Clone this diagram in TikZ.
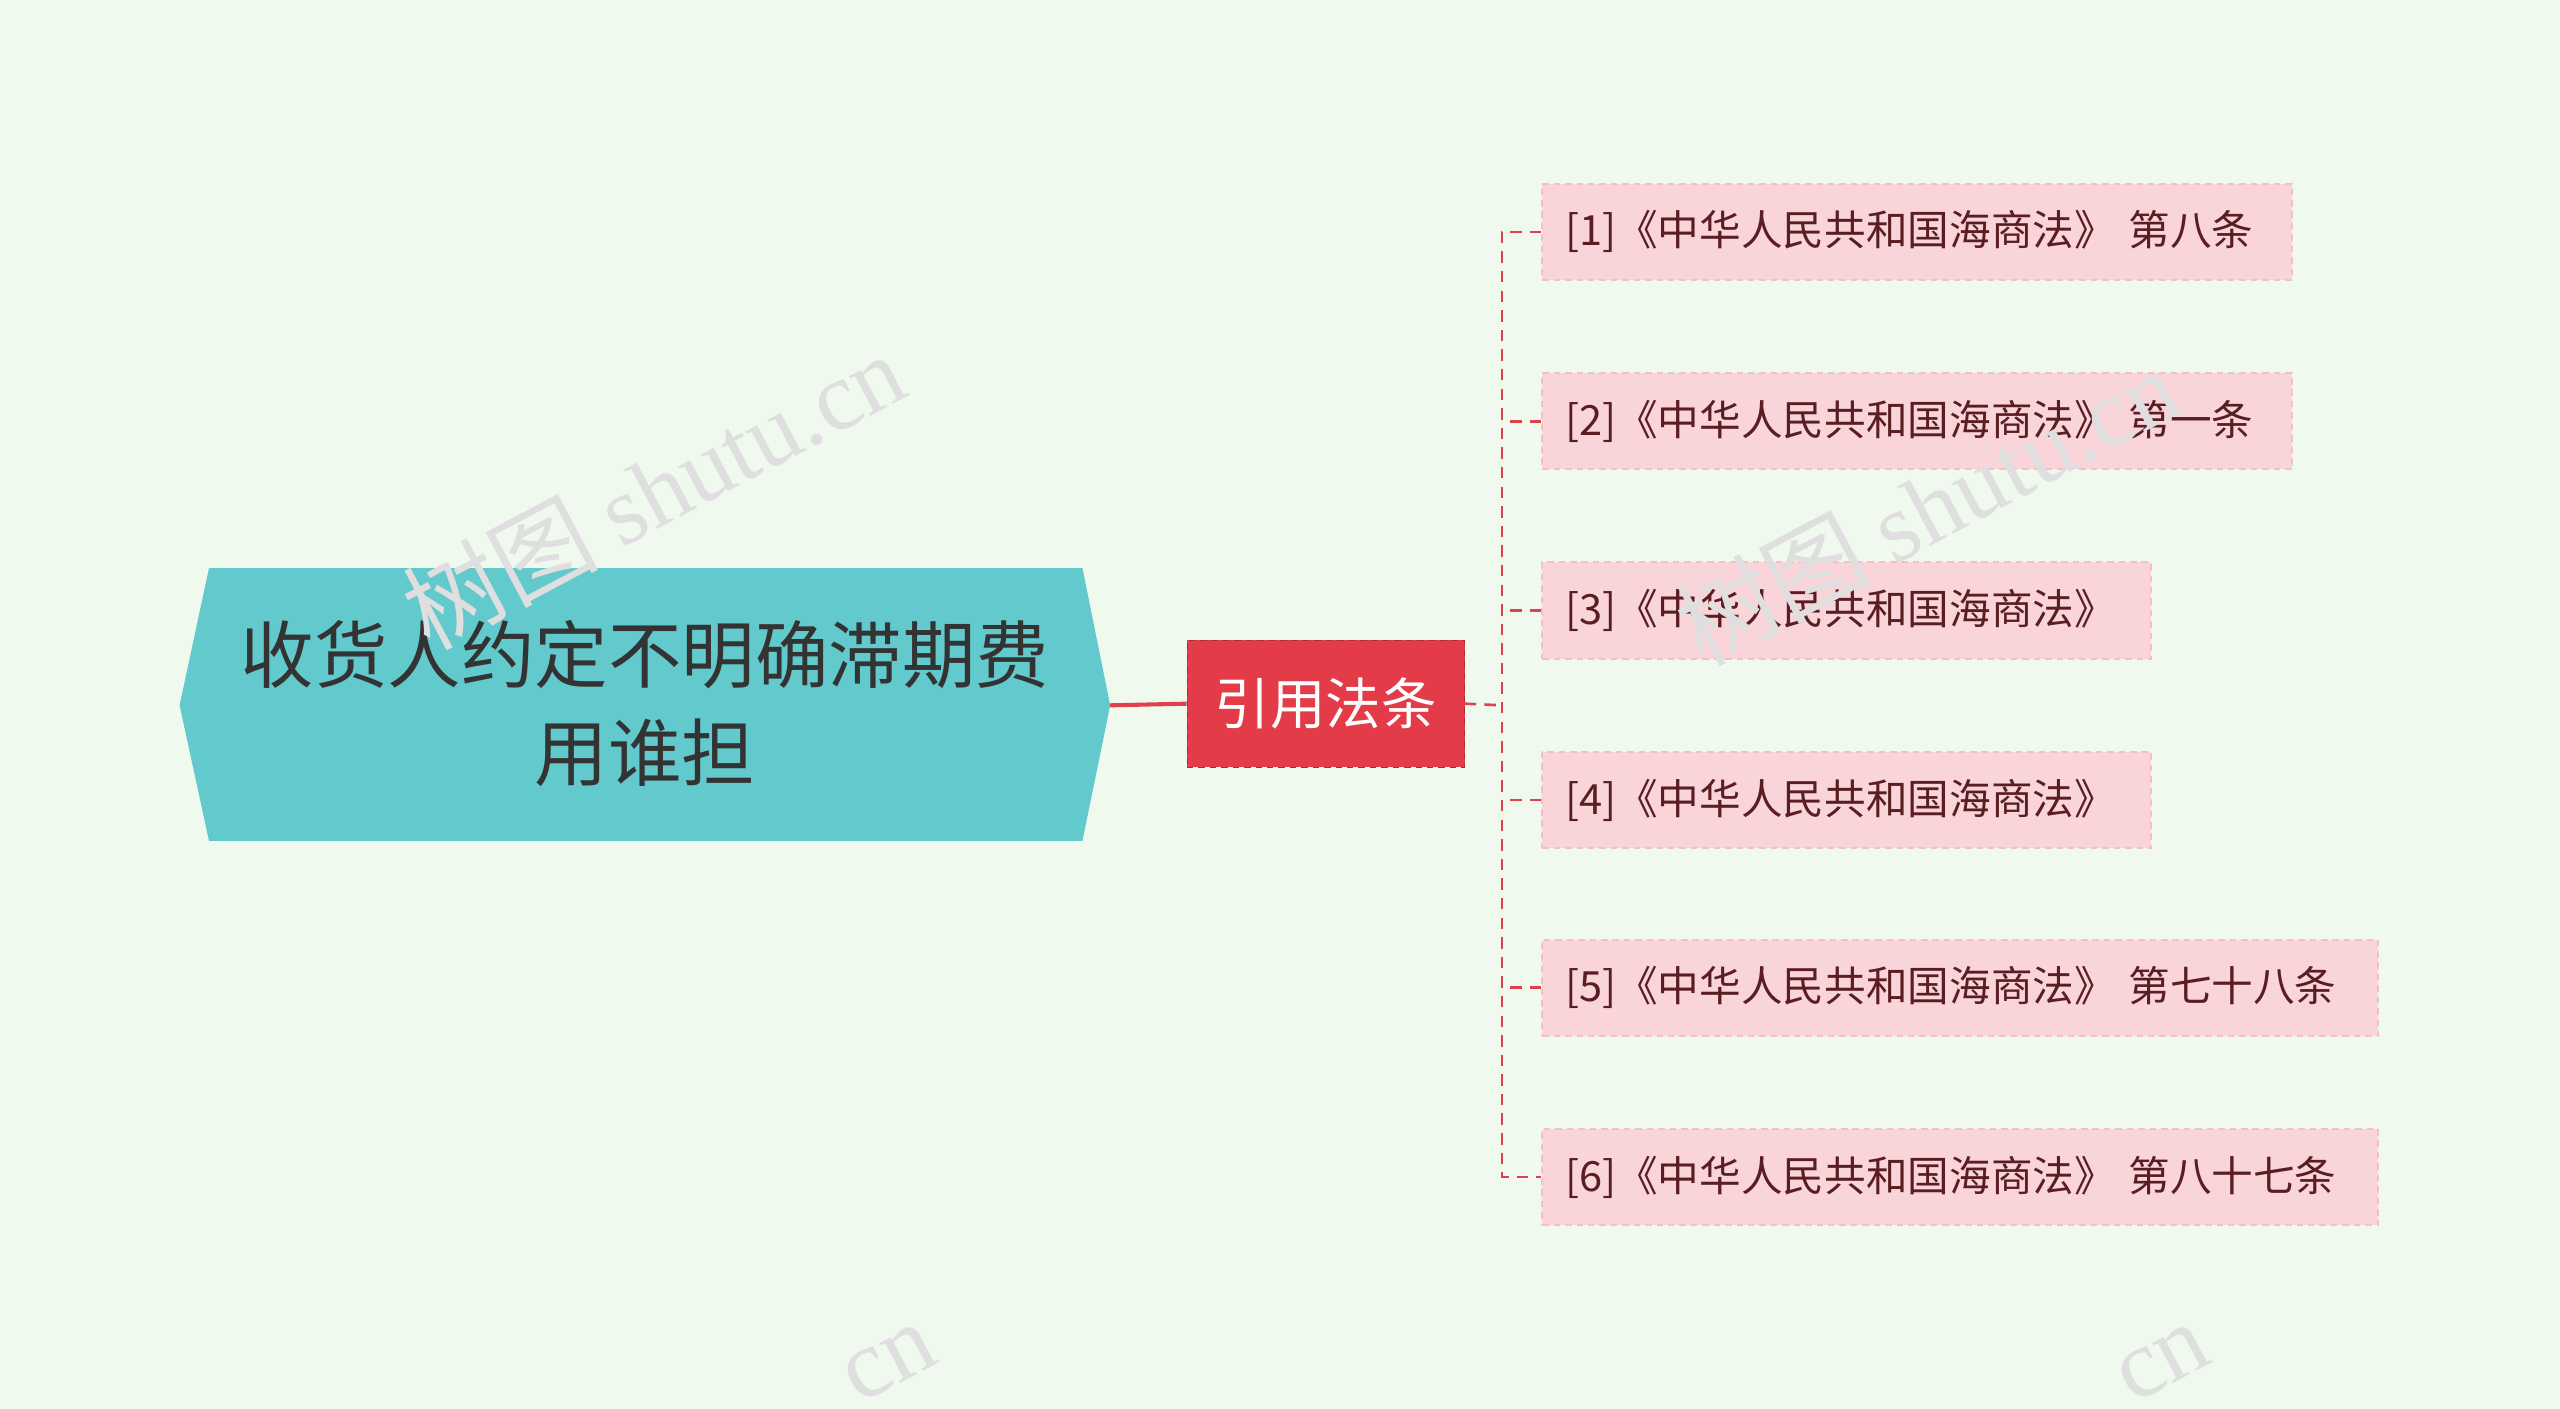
\documentclass[tikz,border=0pt]{standalone}
\usepackage{fontspec}
\usetikzlibrary{calc}
\setmainfont{Noto Sans CJK SC}
\newfontfamily\wmfont{Liberation Serif}
\begin{document}
\begin{tikzpicture}[x=1pt,y=-1pt,
 leaf/.style={draw=pinkedge,dash pattern=on 4pt off 3pt,fill=leaffill,line width=1.2pt,minimum height=59pt,inner xsep=14pt,anchor=west,text=leaftext,font=\fontsize{25.5}{30}\selectfont},
 br/.style={draw=linered,dash pattern=on 7pt off 5pt,line width=1.6pt},
 wm/.style={rotate=28,text=gray!25,font=\fontsize{60}{62}\selectfont}]
\definecolor{bg}{HTML}{F0F9EE}
\definecolor{leaffill}{HTML}{F9D5DA}
\definecolor{pinkedge}{HTML}{F4BFC6}
\definecolor{leaftext}{HTML}{5A1E22}
\definecolor{linered}{HTML}{E0404A}
\definecolor{rootfill}{HTML}{62CACD}
\definecolor{midfill}{HTML}{E33B48}
\fill[bg] (0,0) rectangle (1568,863);
\useasboundingbox (0,0) rectangle (1568,863);
% root
\fill[rootfill] (110,432) -- (128,348) -- (663,348) -- (680,432) -- (663,515) -- (128,515) -- cycle;
\node[align=center,text=black!80,font=\fontsize{45}{60}\selectfont] (root) at (395,431) {收货人约定不明确滞期费\\用谁担};
\coordinate (rootR) at (680,432);
% middle
\node[draw=midfill!75!black,dash pattern=on 4pt off 3pt,fill=midfill,minimum width=170pt,minimum height=78pt,text=white,font=\fontsize{34}{40}\selectfont] (mid) at (812,431) {引用法条};
\draw[linered,line width=2.5pt] (rootR) -- (mid.west);
\coordinate (bus) at (920,432);
\draw[br] (mid.east) -- (bus);
\node[leaf,minimum width=459pt,text width=431pt] (l1) at (944,142) {\mbox{[1]《中华人民共和国海商法》\hspace{0.3em}第八条}};
\node[leaf,minimum width=459pt,text width=431pt] (l2) at (944,258) {\mbox{[2]《中华人民共和国海商法》\hspace{0.3em}第一条}};
\node[leaf,minimum width=373pt,text width=345pt] (l3) at (944,374) {\mbox{[3]《中华人民共和国海商法》}};
\node[leaf,minimum width=373pt,text width=345pt] (l4) at (944,490) {\mbox{[4]《中华人民共和国海商法》}};
\node[leaf,minimum width=512pt,text width=484pt] (l5) at (944,605) {\mbox{[5]《中华人民共和国海商法》\hspace{0.3em}第七十八条}};
\node[leaf,minimum width=512pt,text width=484pt] (l6) at (944,721) {\mbox{[6]《中华人民共和国海商法》\hspace{0.3em}第八十七条}};
\draw[br] (l1.west) -- ++(-24,0) -- ($(l6.west)+(-24,0)$) -- (l6.west);
\foreach \n in {l2,l3,l4,l5} \draw[br] (\n.west) -- ++(-24,0);
% watermarks
\node[wm] at (400,300) {树图 {\wmfont shutu.cn}};
\node[wm] at (1180,310) {树图 {\wmfont shutu.cn}};
\node[wm] at (545,835) {\wmfont cn};
\node[wm] at (1325,835) {\wmfont cn};
\end{tikzpicture}
\end{document}
